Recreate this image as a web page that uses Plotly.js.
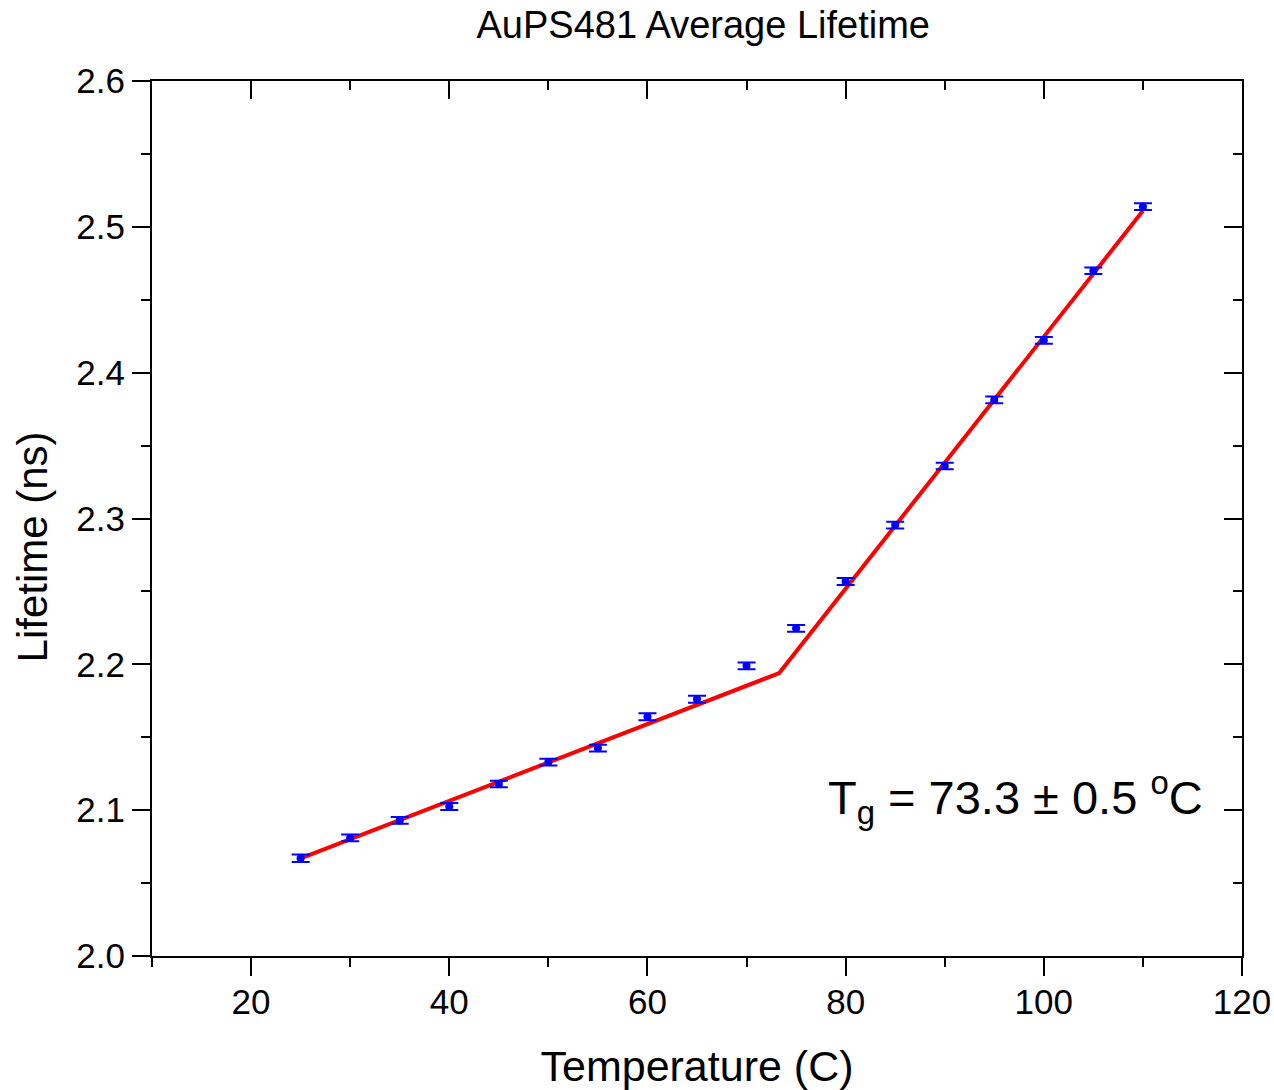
<!DOCTYPE html>
<html>
<head>
<meta charset="utf-8">
<script src="https://cdn.plot.ly/plotly-3.0.1.min.js"></script>
<style>html,body{margin:0;padding:0;background:#fff;}#chart{width:1274px;height:1090px;}</style>
</head>
<body>
<div id="chart"></div>
<script>
const temperature = [25, 30, 35, 40, 45, 50, 55, 60, 65, 70, 75, 80, 85, 90, 95, 100, 105, 110];
const lifetime = [2.067, 2.081, 2.093, 2.1025, 2.118, 2.133, 2.1425, 2.164, 2.176, 2.199, 2.2247, 2.2568, 2.2955, 2.336, 2.3813, 2.4222, 2.4699, 2.5138];
const lifetimeErr = [0.0026, 0.0023, 0.0023, 0.0024, 0.0022, 0.0023, 0.0023, 0.0024, 0.0024, 0.0023, 0.0023, 0.0024, 0.0023, 0.0023, 0.0023, 0.0023, 0.0022, 0.0023];
const fitX = [25, 73.3, 110];
const fitY = [2.067, 2.194, 2.511];
const xTickVals = [20, 40, 60, 80, 100, 120];
const yTickVals = [2.0, 2.1, 2.2, 2.3, 2.4, 2.5, 2.6];

const FONT = 'Liberation Sans, Arial, sans-serif';

const traces = [
  {
    x: fitX, y: fitY, type: 'scatter', mode: 'lines',
    line: {color: '#ff0000', width: 4},
    hoverinfo: 'skip', showlegend: false
  },
  {
    x: temperature, y: lifetime, type: 'scatter', mode: 'markers',
    marker: {color: '#0000ff', size: 8},
    error_y: {type: 'data', array: lifetimeErr, visible: true, color: '#0000ff', thickness: 2, width: 9},
    showlegend: false
  },
  {x: [null], y: [null], xaxis: 'x2', yaxis: 'y2', showlegend: false, hoverinfo: 'skip'}
];

const axCommon = {
  showgrid: false, zeroline: false, showline: true, linecolor: '#000', linewidth: 2,
  tickcolor: '#000', tickwidth: 2, ticklen: 18
};

const layout = {
  width: 1274, height: 1090,
  paper_bgcolor: '#fff', plot_bgcolor: '#fff',
  margin: {l: 152, r: 32, t: 81, b: 134},
  showlegend: false,
  title: {text: 'AuPS481 Average Lifetime', font: {family: FONT, size: 38, color: '#000'},
          x: 0.552, xanchor: 'center', y: 0.977, yanchor: 'middle'},
  xaxis: Object.assign({}, axCommon, {
    range: [10, 120], tickvals: xTickVals, ticks: 'outside', ticklabelstandoff: -4,
    tickfont: {family: FONT, size: 35, color: '#000'},
    minor: {dtick: 10, tick0: 0, ticks: 'outside', ticklen: 9, tickwidth: 2, tickcolor: '#000'},
    title: {text: 'Temperature (C)', font: {family: FONT, size: 43, color: '#000'}, standoff: 32}
  }),
  yaxis: Object.assign({}, axCommon, {
    range: [2.0, 2.6], tickvals: yTickVals, tickformat: '.1f', ticks: 'outside',
    tickfont: {family: FONT, size: 35, color: '#000'},
    minor: {dtick: 0.05, tick0: 0, ticks: 'outside', ticklen: 9, tickwidth: 2, tickcolor: '#000'}
  }),
  xaxis2: Object.assign({}, axCommon, {
    overlaying: 'x', side: 'top', anchor: 'y2', range: [10, 120], tickvals: xTickVals,
    ticks: 'inside', showticklabels: false,
    minor: {dtick: 10, tick0: 0, ticks: 'inside', ticklen: 9, tickwidth: 2, tickcolor: '#000'}
  }),
  yaxis2: Object.assign({}, axCommon, {
    overlaying: 'y', side: 'right', anchor: 'x2', range: [2.0, 2.6], tickvals: yTickVals,
    ticks: 'inside', showticklabels: false,
    minor: {dtick: 0.05, tick0: 0, ticks: 'inside', ticklen: 9, tickwidth: 2, tickcolor: '#000'}
  }),
  annotations: [
    {
      x: 116.3, y: 2.109, xref: 'x', yref: 'y', xanchor: 'right', yanchor: 'middle',
      text: 'T<sub>g</sub> = 73.3 ± 0.5 <sup>o</sup>C', showarrow: false,
      font: {family: FONT, size: 47, color: '#000'}
    },
    {
      x: -0.110, y: 0.467, xref: 'paper', yref: 'paper', xanchor: 'center', yanchor: 'middle',
      text: 'Lifetime (ns)', textangle: -90, showarrow: false,
      font: {family: FONT, size: 42, color: '#000'}
    }
  ]
};

Plotly.newPlot('chart', traces, layout, {displayModeBar: false, staticPlot: true});
</script>
</body>
</html>
